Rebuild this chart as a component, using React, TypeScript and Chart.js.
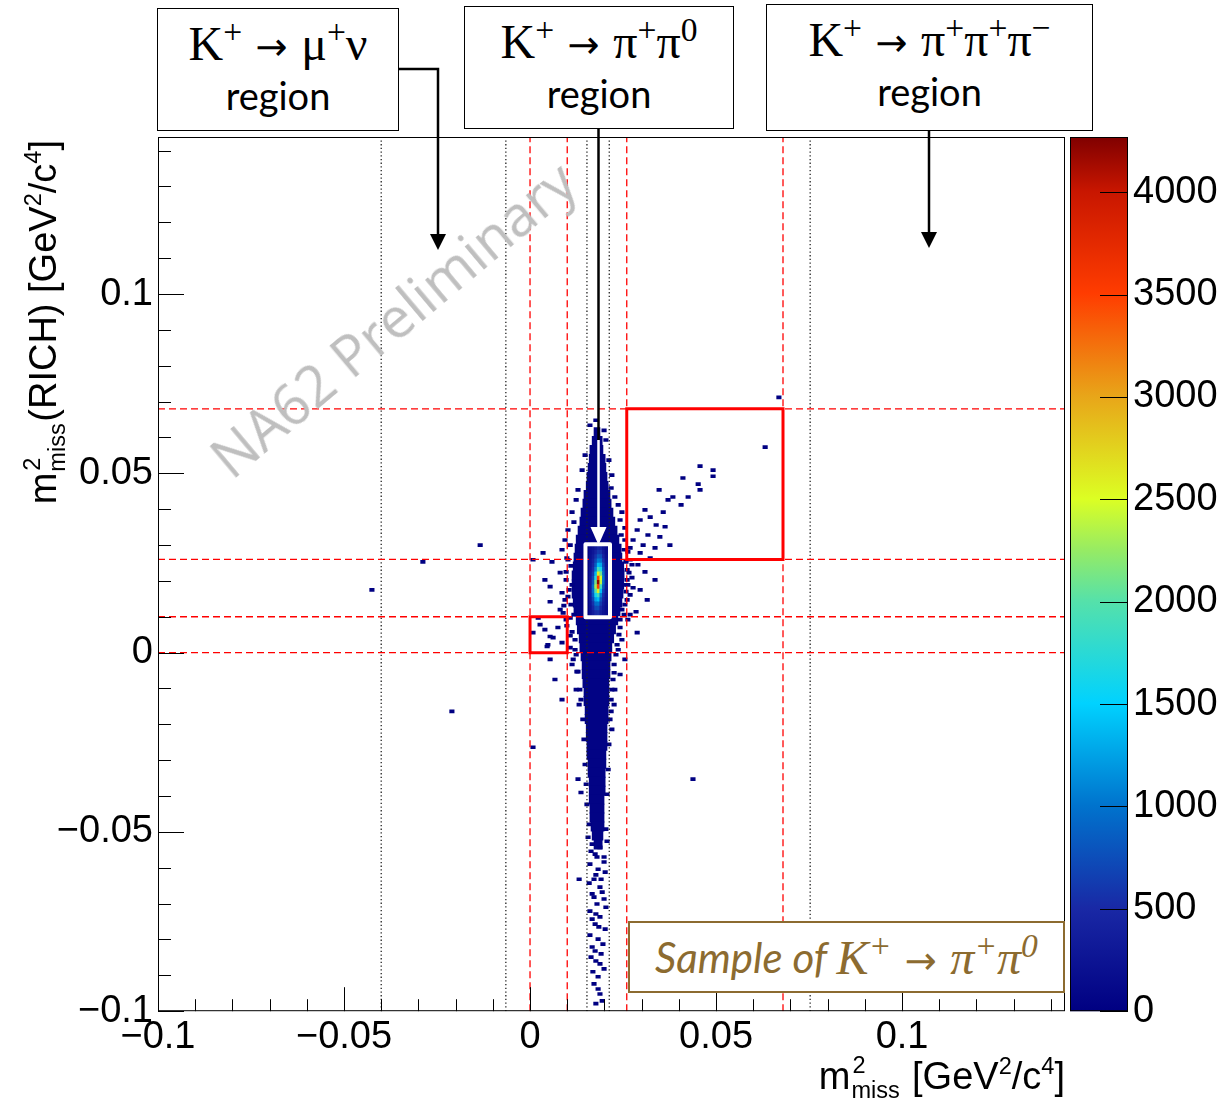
import React, { useEffect, useRef } from 'react';
import { Chart, registerables } from 'chart.js';

Chart.register(...registerables);

// ---------------- axes ----------------
const X_MIN = -0.1;
const X_MAX = 0.1438;
const Y_MIN = -0.1;
const Y_MAX = 0.1438;
const Z_MAX = 4270;
const xTickValues = [-0.1, -0.05, 0, 0.05, 0.1];
const xTickLabels = ['\u22120.1', '\u22120.05', '0', '0.05', '0.1'];
const yTickValues = [-0.1, -0.05, 0, 0.05, 0.1];
const yTickLabels = ['\u22120.1', '\u22120.05', '0', '0.05', '0.1'];
const zTickValues = [0, 500, 1000, 1500, 2000, 2500, 3000, 3500, 4000];
const zTickLabels = ['0', '500', '1000', '1500', '2000', '2500', '3000', '3500', '4000'];
const MINOR_STEP = 0.01;

// ---------------- selection cuts ----------------
const redCutsX = [0, 0.01, 0.026, 0.068];
const redCutsY = [0, 0.01, 0.026, 0.068];
const blackCutsX = [-0.04, -0.0065, 0.0153, 0.0213, 0.0753];
const muNuBox = [0, 0.01, 0, 0.01]; // x0, x1, y0, y1
const threePiBox = [0.026, 0.068, 0.026, 0.068];
const pi0Box = [0.0149, 0.0215, 0.0099, 0.0302];

// ---------------- histogram: low-count band (rows) ----------------
const bandLevel = 40;
const bandY = [0.0615, 0.059, 0.0565, 0.054, 0.0515, 0.049, 0.0465, 0.044, 0.0415, 0.039, 0.0365, 0.034, 0.0315, 0.029, 0.0265, 0.024, 0.0215, 0.019, 0.0165, 0.014, 0.0115, 0.009, 0.0065, 0.004, 0.0015, -0.001, -0.0035, -0.006, -0.0085, -0.011, -0.0135, -0.016, -0.0185, -0.021, -0.0235, -0.026, -0.0285, -0.031, -0.0335, -0.036, -0.0385, -0.041, -0.0435, -0.046, -0.0485, -0.051, -0.0535];
const bandXmin = [0.0172, 0.0167, 0.0161, 0.0159, 0.0156, 0.0153, 0.0151, 0.0145, 0.0142, 0.0137, 0.0134, 0.0129, 0.0124, 0.0121, 0.0118, 0.0116, 0.0113, 0.0113, 0.0113, 0.0116, 0.0118, 0.0124, 0.0127, 0.0132, 0.0134, 0.0137, 0.014, 0.014, 0.0142, 0.0145, 0.0145, 0.0148, 0.0148, 0.0151, 0.0151, 0.0153, 0.0153, 0.0156, 0.0156, 0.0159, 0.0159, 0.0159, 0.0161, 0.0161, 0.0164, 0.0167, 0.0172];
const bandXmax = [0.0188, 0.0194, 0.0196, 0.0202, 0.0204, 0.0207, 0.021, 0.0215, 0.0218, 0.0223, 0.0228, 0.0234, 0.0239, 0.0245, 0.0247, 0.0252, 0.0253, 0.0252, 0.025, 0.0247, 0.0242, 0.0236, 0.023, 0.0225, 0.022, 0.0218, 0.0215, 0.0215, 0.0212, 0.0212, 0.0212, 0.021, 0.021, 0.0207, 0.0207, 0.0207, 0.0204, 0.0204, 0.0202, 0.0202, 0.0202, 0.0199, 0.0199, 0.0199, 0.0199, 0.0196, 0.0194];

// ---------------- histogram: isolated cells ----------------
const SPARSE_DX = 0.0012;
const sparseLevel = 5;
const sparseCells: [number, number][] = [
  [-0.0425, 0.0175], [-0.0288, 0.0253], [-0.0134, 0.03], [-0.021, -0.0164], [0.0008, -0.0264], [0.0438, -0.0353],
  [0.0669, 0.0712], [0.0632, 0.0573], [0.0457, 0.052], [0.0492, 0.0509], [0.0492, 0.0492], [0.0411, 0.0487],
  [0.0452, 0.047], [0.0457, 0.0454], [0.0347, 0.0454], [0.0384, 0.0434], [0.0425, 0.0434], [0.0406, 0.0412],
  [0.0371, 0.0426], [0.0358, 0.0392], [0.0309, 0.0398], [0.0323, 0.0378], [0.0296, 0.037], [0.0339, 0.0356],
  [0.0363, 0.0351], [0.0288, 0.0342], [0.0317, 0.0328], [0.0349, 0.0323], [0.0277, 0.0314], [0.0304, 0.03],
  [0.0336, 0.0292], [0.0269, 0.0292], [0.0376, 0.03], [0.0296, 0.0278], [0.0323, 0.0264], [0.0269, 0.0259],
  [0.029, 0.0245], [0.0261, 0.0231], [0.0309, 0.0225], [0.0274, 0.0209], [0.0336, 0.0203], [0.0263, 0.0189],
  [0.0296, 0.0175], [0.0269, 0.0161], [0.0315, 0.0147], [0.0255, 0.0134], [0.0285, 0.0114], [0.0263, 0.0092],
  [0.0288, 0.0056], [0.0247, 0.0036], [0.0237, 0.0008], [0.0255, -0.0019], [0.0242, -0.0061], [0.0228, -0.0103],
  [0.0226, -0.0145],
  [0.0161, 0.0634], [0.0177, 0.0648], [0.0148, 0.0551], [0.014, 0.0509], [0.0129, 0.0454], [0.0124, 0.0426],
  [0.0113, 0.0392], [0.0118, 0.0364], [0.0102, 0.0342], [0.0094, 0.0314], [0.0108, 0.03], [0.0086, 0.0287],
  [0.0035, 0.0278], [0.0059, 0.0253], [0.0008, 0.0259], [0.0099, 0.0264], [0.0081, 0.0223], [0.004, 0.0203],
  [0.0097, 0.0203], [0.0054, 0.0184], [0.0086, 0.0167], [0.0102, 0.0156], [0.0054, 0.0142], [0.0094, 0.0147],
  [0.0081, 0.012], [0.0089, 0.0111], [0.0108, 0.0097], [0.0099, 0.0075], [0.0113, 0.0058], [0.0121, 0.0036],
  [0.0108, 0.0014], [0.0124, -0.0006], [0.0113, -0.0033], [0.0126, -0.0053], [0.0124, -0.0103], [0.0132, -0.0145],
  [0.0086, -0.0131], [0.0067, -0.0075], [0.0054, -0.0019], [0.0048, 0.0022],
  [0.0102, 0.0259], [0.011, 0.0242], [0.0097, 0.0225], [0.0113, 0.0189], [0.0105, 0.0175], [0.0091, 0.0131],
  [0.011, 0.0134], [0.0118, 0.0106], [0.0097, 0.0092], [0.0108, 0.0047], [0.0121, 0.0008], [0.0116, -0.0019],
  [0.0129, -0.0053], [0.0134, -0.0103], [0.0137, -0.0131],
  [0.0008, 0.0056], [0.0027, 0.0078], [0.0054, 0.0045], [0.0062, 0.0042], [0.0075, 0.007], [0.0086, 0.0028],
  [0.0046, 0.0017], [0.0022, 0.0097], [0.004, 0.0064],
  [0.0204, 0.0593], [0.0199, 0.062], [0.0212, 0.0537], [0.022, 0.0495], [0.0218, 0.0459], [0.0228, 0.0434],
  [0.0237, 0.0412], [0.0247, 0.0392], [0.0242, 0.037], [0.0255, 0.0348], [0.0245, 0.0328], [0.0253, 0.0287],
  [0.0258, 0.0253], [0.0261, 0.0203], [0.0258, 0.017], [0.0253, 0.0106], [0.0242, 0.007], [0.0234, 0.0022],
  [0.0226, -0.0033], [0.0223, -0.0075], [0.0218, -0.0131], [0.0215, -0.0186], [0.0212, -0.0256], [0.021, -0.0326],
  [0.0207, -0.0395],
  [0.0255, 0.0314], [0.0263, 0.0281], [0.0274, 0.0245], [0.0266, 0.0223], [0.0253, 0.0189], [0.0277, 0.0181],
  [0.0261, 0.0147], [0.0247, 0.012], [0.0269, 0.0106], [0.0242, 0.0092], [0.0239, 0.005], [0.0231, -0.0006],
  [0.0226, -0.0056], [0.022, -0.0103], [0.0218, -0.0164], [0.022, -0.0214],
  [0.0142, -0.0186], [0.0145, -0.0242], [0.0148, -0.0312], [0.0151, -0.0367], [0.0153, -0.0423], [0.0137, -0.039],
  [0.0129, -0.0353], [0.0132, -0.0632],
  [0.0167, -0.0534], [0.0188, -0.0543], [0.0175, -0.0562], [0.0199, -0.057], [0.0161, -0.059], [0.0183, -0.0604],
  [0.0202, -0.0612], [0.0172, -0.0632], [0.0188, -0.0654], [0.0167, -0.0673], [0.0199, -0.0687], [0.018, -0.0701],
  [0.0161, -0.0721], [0.0188, -0.0737], [0.0175, -0.0757], [0.0202, -0.0771], [0.0183, -0.0799], [0.0167, -0.0821],
  [0.0191, -0.084], [0.0177, -0.086], [0.0199, -0.0882], [0.0183, -0.0904], [0.0172, -0.0924], [0.0188, -0.0952],
  [0.0177, -0.0979],
  [0.0164, -0.0554], [0.0199, -0.0584], [0.0177, -0.062], [0.0159, -0.0643], [0.0194, -0.0668], [0.0172, -0.0682],
  [0.0204, -0.071], [0.0167, -0.0743], [0.0185, -0.0765], [0.0161, -0.0788], [0.0196, -0.0813], [0.0175, -0.0832],
  [0.0188, -0.0868], [0.0169, -0.089], [0.0183, -0.0938], [0.0194, -0.0971], [0.018, -0.057], [0.0191, -0.0632],
  [0.0177, -0.0729], [0.0164, -0.0849],
  [0.0159, -0.0479], [0.0204, -0.0492], [0.0156, -0.0515], [0.0207, -0.0526],
];

// ---------------- histogram: dense core (counts) ----------------
const CORE_DX = 0.0007;
const coreX = [0.0163, 0.017, 0.0177, 0.0184, 0.0191, 0.0198, 0.0205];
const coreY = [0.0291, 0.0279, 0.0267, 0.0255, 0.0243, 0.0231, 0.0219, 0.0207, 0.0195, 0.0183, 0.0171, 0.0159, 0.0147, 0.0135, 0.0123, 0.0111];
const coreCounts = [
  [150, 220, 330, 450, 400, 250, 150],
  [180, 280, 430, 600, 560, 330, 180],
  [200, 330, 560, 800, 760, 430, 210],
  [220, 400, 700, 1050, 1000, 560, 250],
  [230, 450, 850, 1400, 1300, 700, 280],
  [250, 520, 1050, 1900, 1650, 850, 300],
  [270, 600, 1350, 2600, 2100, 950, 320],
  [300, 700, 1700, 3500, 2500, 1000, 330],
  [320, 800, 2100, 4200, 2400, 950, 320],
  [330, 950, 2300, 3500, 1900, 800, 300],
  [320, 950, 2000, 2600, 1400, 650, 270],
  [300, 850, 1600, 1900, 1050, 520, 250],
  [280, 700, 1250, 1400, 800, 430, 230],
  [250, 560, 950, 1000, 620, 350, 210],
  [220, 450, 720, 750, 480, 300, 190],
  [200, 350, 520, 550, 380, 250, 170],
];

// ---------------- palette ----------------
const palStops = [0, 0.117, 0.235, 0.352, 0.469, 0.527, 0.586, 0.704, 0.821, 0.938, 1];
const palRGB = [
  [0, 0, 130], [25, 40, 165], [0, 115, 205], [0, 210, 255], [85, 225, 170], [150, 235, 100],
  [220, 255, 35], [232, 165, 25], [255, 60, 0], [200, 22, 0], [128, 0, 0],
];
function palette(v: number): string {
  const f = Math.max(0, Math.min(1, v / Z_MAX));
  let i = 0;
  while (i < palStops.length - 2 && f > palStops[i + 1]) i++;
  const t = (f - palStops[i]) / (palStops[i + 1] - palStops[i]);
  const a = palRGB[i], b = palRGB[i + 1];
  const c = a.map((av, k) => Math.round(av + (b[k] - av) * t));
  return `rgb(${c[0]},${c[1]},${c[2]})`;
}

const TICK_FONT = { family: '"Liberation Sans", Arial, sans-serif', size: 38 };

function labelFor(values: number[], labels: string[], v: number) {
  const i = values.findIndex((t) => Math.abs(t - v) < 1e-9);
  return i >= 0 ? labels[i] : '';
}

const rootPlugin = {
  id: 'rootDecor',
  afterDraw(chart: any) {
    const { ctx, chartArea: a, scales } = chart;
    const xs = scales.x, ys = scales.y, zs = scales.zc;
    ctx.save();
    ctx.strokeStyle = '#000';
    ctx.lineWidth = 1;
    ctx.beginPath();
    const nx = Math.round((X_MAX - X_MIN) / MINOR_STEP);
    for (let k = 0; k <= nx; k++) {
      const v = X_MIN + k * MINOR_STEP;
      if (v > X_MAX) break;
      const px = Math.round(xs.getPixelForValue(v)) + 0.5;
      const len = k % 5 === 0 ? 24 : 12;
      ctx.moveTo(px, a.bottom);
      ctx.lineTo(px, a.bottom - len);
    }
    const ny = Math.round((Y_MAX - Y_MIN) / MINOR_STEP);
    for (let k = 0; k <= ny; k++) {
      const v = Y_MIN + k * MINOR_STEP;
      if (v > Y_MAX) break;
      const py = Math.round(ys.getPixelForValue(v)) + 0.5;
      const len = k % 5 === 0 ? 26 : 13;
      ctx.moveTo(a.left, py);
      ctx.lineTo(a.left + len, py);
    }
    ctx.stroke();
    ctx.strokeRect(a.left + 0.5, a.top + 0.5, a.right - a.left - 1, a.bottom - a.top - 1);

    // colour bar
    const cbLeft = a.right + 5;
    const cbW = 58;
    const top = zs.getPixelForValue(Z_MAX);
    const bottom = zs.getPixelForValue(0);
    const g = ctx.createLinearGradient(0, bottom, 0, top);
    palStops.forEach((s, i) => g.addColorStop(s, `rgb(${palRGB[i].join(',')})`));
    ctx.fillStyle = g;
    ctx.fillRect(cbLeft, top, cbW, bottom - top);
    ctx.strokeRect(cbLeft + 0.5, top + 0.5, cbW - 1, bottom - top - 1);
    ctx.beginPath();
    zTickValues.forEach((v) => {
      const py = Math.round(zs.getPixelForValue(v)) + 0.5;
      ctx.moveTo(cbLeft + cbW - 28, py);
      ctx.lineTo(cbLeft + cbW, py);
    });
    ctx.stroke();
    ctx.restore();
  },
};

function buildConfig(): any {
  const bandData = bandY.map((y, i) => ({ y, x: [bandXmin[i], bandXmax[i]] }));
  const sparseData = sparseCells.map(([x, y]) => ({ y, x: [x - SPARSE_DX / 2, x + SPARSE_DX / 2] }));
  const coreData: any[] = [];
  coreY.forEach((y, i) =>
    coreX.forEach((x, j) => coreData.push({ y, x: [x - CORE_DX / 2, x + CORE_DX / 2], c: coreCounts[i][j] }))
  );

  const datasets: any[] = [];
  const barCommon = { type: 'bar', indexAxis: 'y', grouped: false, borderWidth: 0, xAxisID: 'x', yAxisID: 'y' };
  datasets.push({ ...barCommon, data: bandData, backgroundColor: palette(bandLevel), barThickness: 9.3, order: 100 });
  datasets.push({ ...barCommon, data: sparseData, backgroundColor: palette(sparseLevel), barThickness: 3, order: 90 });
  datasets.push({
    ...barCommon,
    data: coreData,
    backgroundColor: (c: any) => palette(c.raw ? c.raw.c : 0),
    barThickness: 4.7,
    order: 50,
  });

  const lineCommon = { type: 'line', pointRadius: 0, fill: false, tension: 0, xAxisID: 'x', yAxisID: 'y' };
  blackCutsX.forEach((c) =>
    datasets.push({ ...lineCommon, data: [{ x: c, y: Y_MIN }, { x: c, y: Y_MAX }], borderColor: '#222', borderWidth: 1.3, borderDash: [1.3, 2.4], order: 80 })
  );
  redCutsX.forEach((c) =>
    datasets.push({ ...lineCommon, data: [{ x: c, y: Y_MIN }, { x: c, y: Y_MAX }], borderColor: '#ff0000', borderWidth: 1.3, borderDash: [7, 4], order: 70 })
  );
  redCutsY.forEach((c) =>
    datasets.push({ ...lineCommon, data: [{ x: X_MIN, y: c }, { x: X_MAX, y: c }], borderColor: '#ff0000', borderWidth: 1.3, borderDash: [7, 4], order: 70 })
  );
  const boxPts = (b: number[]) => [
    { x: b[0], y: b[2] }, { x: b[1], y: b[2] }, { x: b[1], y: b[3] }, { x: b[0], y: b[3] }, { x: b[0], y: b[2] }, { x: b[1], y: b[2] },
  ];
  [muNuBox, threePiBox].forEach((b) =>
    datasets.push({ ...lineCommon, data: boxPts(b), borderColor: '#ff0000', borderWidth: 3, borderJoinStyle: 'miter', order: 60 })
  );
  datasets.push({ ...lineCommon, data: boxPts(pi0Box), borderColor: '#ffffff', borderWidth: 4, borderJoinStyle: 'round', order: 40 });

  const axisCommon = {
    type: 'linear',
    offset: false,
    grace: 0,
    grid: { display: false, drawTicks: false, offset: false },
    border: { display: false },
  };
  return {
    type: 'scatter',
    data: { datasets },
    options: {
      animation: false,
      responsive: false,
      maintainAspectRatio: false,
      devicePixelRatio: 1,
      events: [],
      layout: { padding: { top: 137, left: 0, right: 0, bottom: 0 } },
      plugins: { legend: { display: false }, tooltip: { enabled: false }, title: { display: false } },
      scales: {
        x: {
          ...axisCommon,
          position: 'bottom',
          min: X_MIN,
          max: X_MAX,
          ticks: { font: TICK_FONT, color: '#000', padding: 4, autoSkip: false, maxRotation: 0, callback: (v: number) => labelFor(xTickValues, xTickLabels, v) },
          afterBuildTicks: (s: any) => { s.ticks = xTickValues.map((value) => ({ value })); },
          afterFit: (s: any) => { s.height = 90; },
        },
        y: {
          ...axisCommon,
          position: 'left',
          min: Y_MIN,
          max: Y_MAX,
          ticks: { font: TICK_FONT, color: '#000', padding: 5, autoSkip: false, callback: (v: number) => labelFor(yTickValues, yTickLabels, v) },
          afterBuildTicks: (s: any) => { s.ticks = yTickValues.map((value) => ({ value })); },
          afterFit: (s: any) => { s.width = 158; },
        },
        zc: {
          ...axisCommon,
          axis: 'y',
          position: 'right',
          min: 0,
          max: Z_MAX,
          ticks: { font: TICK_FONT, color: '#000', padding: 68, autoSkip: false, callback: (v: number) => labelFor(zTickValues, zTickLabels, v) },
          afterBuildTicks: (s: any) => { s.ticks = zTickValues.map((value) => ({ value })); },
          afterFit: (s: any) => { s.width = 160; },
        },
      },
    },
    plugins: [rootPlugin],
  };
}

const Sup = ({ c, raise = '0.5em', size = '0.7em' }: { c: string; raise?: string; size?: string }) => (
  <span style={{ fontSize: size, verticalAlign: raise, lineHeight: 0 }}>{c}</span>
);

const Arrow = () => (
  <span style={{ fontFamily: '"DejaVu Sans", sans-serif', fontSize: '0.8em', margin: '0 0.35em' }}>→</span>
);

const SupSub = ({ sup, sub }: { sup: string; sub: string }) => (
  <span style={{ position: 'relative', display: 'inline-block', width: 51, height: 0 }}>
    <span style={{ position: 'absolute', left: 2, top: -37, fontSize: '0.62em', lineHeight: 1.15 }}>{sup}</span>
    <span style={{ position: 'absolute', left: 1, top: -12, fontSize: '0.62em', lineHeight: 1.15 }}>{sub}</span>
  </span>
);

const SERIF = '"Liberation Serif", "DejaVu Serif", serif';
const SANS = '"Liberation Sans", Arial, sans-serif';
const CAL = 'Lato, "Open Sans", sans-serif';

function RegionBox({ left, top, width, height, children }: any) {
  return (
    <div style={{ position: 'absolute', left, top, width, height, boxSizing: 'border-box', border: '1.5px solid #000', background: '#fff' }}>
      <div style={{ position: 'absolute', left: 0, right: 0, top: 11, textAlign: 'center', fontFamily: SERIF, fontSize: 48, lineHeight: 1, whiteSpace: 'nowrap' }}>
        {children}
      </div>
      <div style={{ position: 'absolute', left: 0, right: 0, top: 67, textAlign: 'center', fontFamily: CAL, fontSize: 38, lineHeight: 1 }}>region</div>
    </div>
  );
}

export default function App() {
  const ref = useRef<HTMLCanvasElement>(null);
  useEffect(() => {
    const chart = new Chart(ref.current as HTMLCanvasElement, buildConfig());
    return () => chart.destroy();
  }, []);
  return (
    <div style={{ position: 'absolute', left: 0, top: 0, width: 1225, height: 1102, background: '#fff', overflow: 'hidden' }}>
      <canvas ref={ref} width={1225} height={1102} style={{ position: 'absolute', left: 0, top: 0, width: 1225, height: 1102 }} />

      {/* watermark */}
      <div style={{ position: 'absolute', left: 392, top: 318, transform: 'translate(-50%, -50%) rotate(-40deg)', fontFamily: '"Open Sans", sans-serif', fontSize: 56, color: '#bfbfbf', whiteSpace: 'nowrap', lineHeight: 1 }}>
        NA62 Preliminary
      </div>

      {/* region boxes */}
      <RegionBox left={157} top={8} width={242} height={123}>
        K<Sup c="+" /><Arrow />μ<Sup c="+" />ν
      </RegionBox>
      <RegionBox left={464} top={6} width={270} height={123}>
        K<Sup c="+" /><Arrow />π<Sup c="+" />π<Sup c="0" />
      </RegionBox>
      <RegionBox left={766} top={4} width={327} height={127}>
        K<Sup c="+" /><Arrow />π<Sup c="+" />π<Sup c="+" />π<Sup c={'\u2212'} />
      </RegionBox>

      {/* connectors and arrows */}
      <svg width={1225} height={1102} style={{ position: 'absolute', left: 0, top: 0, pointerEvents: 'none' }}>
        <polyline points="398,69 438,69 438,236" fill="none" stroke="#000" strokeWidth={2.5} />
        <polygon points="430,234 446,234 438,250" fill="#000" />
        <line x1={598.5} y1={129} x2={598.5} y2={440} stroke="#000" strokeWidth={2.5} />
        <line x1={598.5} y1={440} x2={598.5} y2={530} stroke="#fff" strokeWidth={2.5} />
        <polygon points="590.5,527 606.5,527 598.5,545" fill="#fff" />
        <line x1={929} y1={131} x2={929} y2={234} stroke="#000" strokeWidth={2.5} />
        <polygon points="921,232 937,232 929,248" fill="#000" />
      </svg>

      {/* sample label */}
      <div style={{ position: 'absolute', left: 628, top: 921, width: 437, height: 72, boxSizing: 'border-box', border: '2px solid #8c6b30', background: '#fff', display: 'flex', alignItems: 'center', justifyContent: 'center', color: '#8c6b30', whiteSpace: 'nowrap' }}>
        <span style={{ fontFamily: CAL, fontStyle: 'italic', fontSize: 42 }}>Sample of&nbsp;</span>
        <span style={{ fontFamily: SERIF, fontStyle: 'italic', fontSize: 48 }}>
          K<Sup c="+" /><Arrow />π<Sup c="+" />π<Sup c="0" />
        </span>
      </div>

      {/* axis titles */}
      <div style={{ position: 'absolute', right: 160, top: 1057, fontFamily: SANS, fontSize: 38, lineHeight: 1, whiteSpace: 'nowrap' }}>
        m<SupSub sup="2" sub="miss" /> [GeV<Sup c="2" raise="0.62em" size="0.62em" />/c<Sup c="4" raise="0.62em" size="0.62em" />]
      </div>
      <div style={{ position: 'absolute', left: 24, top: 740, width: 600, textAlign: 'right', transform: 'rotate(-90deg)', transformOrigin: '0 0', fontFamily: SANS, fontSize: 38, lineHeight: 1, whiteSpace: 'nowrap' }}>
        m<SupSub sup="2" sub="miss" />(RICH) [GeV<Sup c="2" raise="0.62em" size="0.62em" />/c<Sup c="4" raise="0.62em" size="0.62em" />]
      </div>
    </div>
  );
}
